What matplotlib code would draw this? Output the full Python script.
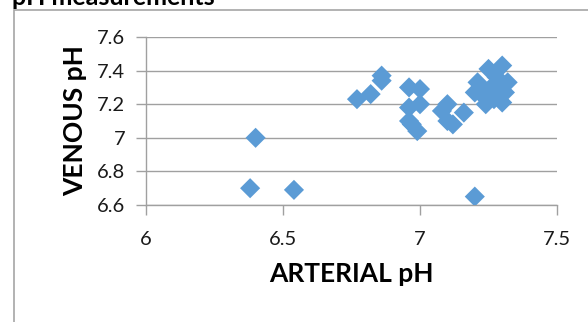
import matplotlib
matplotlib.use('Agg')
import matplotlib.pyplot as plt
from matplotlib.patches import Rectangle

plt.rcParams['font.family'] = ['Lato', 'DejaVu Sans']

# arterial vs venous pH pairs
arterial = [6.40, 6.38, 6.54, 7.20, 6.77, 6.82, 6.86, 6.86, 6.96, 7.00,
            6.96, 7.00, 6.96, 6.97, 6.99, 7.10, 7.08, 7.10, 7.12, 7.16,
            7.25, 7.30, 7.21, 7.20, 7.24, 7.30, 7.32, 7.31, 7.26, 7.28,
            7.23, 7.27, 7.29, 7.22, 7.25, 7.28]
venous = [7.00, 6.70, 6.69, 6.65, 7.23, 7.26, 7.37, 7.34, 7.30, 7.29,
          7.18, 7.20, 7.10, 7.08, 7.04, 7.20, 7.16, 7.10, 7.08, 7.15,
          7.41, 7.43, 7.33, 7.27, 7.20, 7.21, 7.33, 7.27, 7.30, 7.36,
          7.25, 7.23, 7.31, 7.30, 7.28, 7.25]

x_ticks = [6, 6.5, 7, 7.5]
x_labels = ['6', '6.5', '7', '7.5']
y_ticks = [6.6, 6.8, 7.0, 7.2, 7.4, 7.6]
y_labels = ['6.6', '6.8', '7', '7.2', '7.4', '7.6']

fig = plt.figure(figsize=(5.88, 3.22), dpi=100)

# outer chart frame (partly cut off, like the screenshot)
fig.patches.append(Rectangle((14 / 588, -0.1), 1.0, 1 - 10 / 322 + 0.1,
                             transform=fig.transFigure, fill=False,
                             edgecolor='#A6A6A6', linewidth=1.2))
fig.text(12 / 588, 1 - 5 / 322, 'pH measurements', fontsize=18,
         fontweight='bold', ha='left', va='baseline')

ax = fig.add_axes([146 / 588, 1 - 205 / 322, 411 / 588, 168 / 322])
ax.scatter(arterial, venous, marker='D', s=105, color='#5B9BD5',
           edgecolors='none', zorder=3)

ax.set_xlim(6, 7.5)
ax.set_ylim(6.6, 7.6)
ax.set_xticks(x_ticks)
ax.set_xticklabels(x_labels)
ax.set_yticks(y_ticks)
ax.set_yticklabels(y_labels)
ax.yaxis.grid(True, color='#A0A0A0', linewidth=1.0)
ax.set_axisbelow(True)

for side in ['top', 'right']:
    ax.spines[side].set_visible(False)
for side in ['left', 'bottom']:
    ax.spines[side].set_color('#A0A0A0')
    ax.spines[side].set_linewidth(1.0)

ax.tick_params(axis='both', colors='#A0A0A0', length=7, width=1.0,
               labelsize=14.5, labelcolor='#1A1A1A')
ax.tick_params(axis='x', pad=12)
ax.tick_params(axis='y', pad=8)

ax.set_xlabel('ARTERIAL pH', fontsize=19, fontweight='bold', labelpad=10)
ax.set_ylabel('VENOUS pH', fontsize=19, fontweight='bold', labelpad=7)

fig.savefig('out.png', dpi=100)
